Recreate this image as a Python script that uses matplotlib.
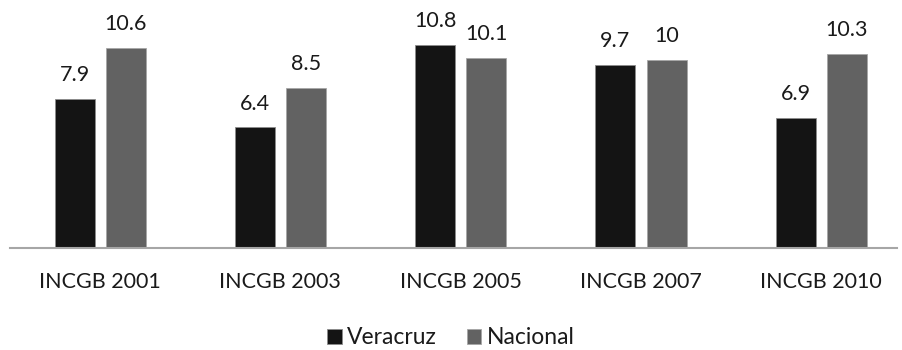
import matplotlib.pyplot as plt
import numpy as np

categorias = ["INCGB 2001", "INCGB 2003", "INCGB 2005", "INCGB 2007", "INCGB 2010"]
veracruz = [7.9, 6.4, 10.8, 9.7, 6.9]
nacional = [10.6, 8.5, 10.1, 10, 10.3]
etiquetas_veracruz = ["7.9", "6.4", "10.8", "9.7", "6.9"]
etiquetas_nacional = ["10.6", "8.5", "10.1", "10", "10.3"]

plt.rcParams['font.family'] = ['Lato', 'DejaVu Sans']

fig = plt.figure(figsize=(9.02, 3.5), dpi=100)
ax = fig.add_axes([10 / 902, 102 / 350, 887 / 902, 226 / 350])

x = np.arange(len(categorias))
ancho = 0.222
desp = 0.1416
b1 = ax.bar(x - desp, veracruz, ancho, color='#141414', edgecolor='#8c8c8c', linewidth=0.6, label='Veracruz')
b2 = ax.bar(x + desp, nacional, ancho, color='#626262', edgecolor='#a6a6a6', linewidth=0.6, label='Nacional')

for barras, etiquetas in [(b1, etiquetas_veracruz), (b2, etiquetas_nacional)]:
    for b, t in zip(barras, etiquetas):
        ax.annotate(t, (b.get_x() + b.get_width() / 2, b.get_height()),
                    xytext=(0, 10), textcoords='offset points',
                    ha='center', va='bottom', fontsize=15.5, color='#1a1a1a')

ax.set_xlim(-0.5, 4.42)
ax.set_ylim(0, 12)
ax.set_xticks(x)
ax.set_xticklabels(categorias, fontsize=15.5, color='#1a1a1a')
ax.tick_params(axis='x', length=0, pad=17)
ax.set_yticks([])
for s in ['top', 'right', 'left']:
    ax.spines[s].set_visible(False)
ax.spines['bottom'].set_color('#a6a6a6')
ax.spines['bottom'].set_linewidth(1.5)

fig.legend(loc='center', bbox_to_anchor=(0.5, 1 - 338 / 350), ncol=2, frameon=False,
           fontsize=16.5, handlelength=0.62, handleheight=0.62, handletextpad=0.25,
           columnspacing=1.3, labelcolor='#1a1a1a')

fig.savefig('out.png', dpi=100)
